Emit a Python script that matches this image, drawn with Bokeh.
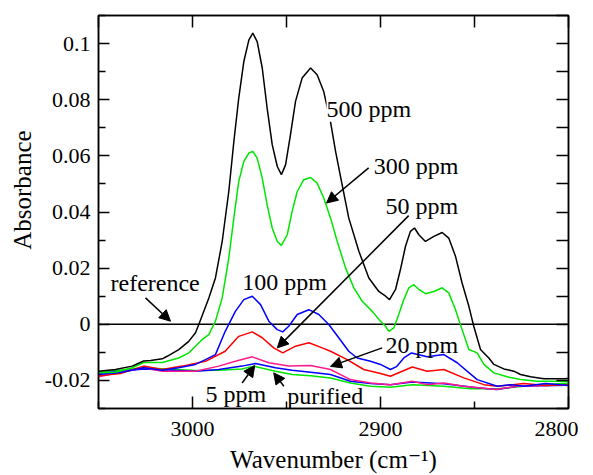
from bokeh.plotting import figure
from bokeh.models import (Range1d, LinearAxis, FixedTicker, CustomJSTickFormatter,
                          Label, Arrow, NormalHead, Title)
from bokeh.embed import file_html
from bokeh.resources import INLINE

# ---------------- data ----------------
x_500 = [3050, 3041, 3032.1, 3026, 3022.3, 3016.1, 3013.5, 3007.3, 3002, 2998.4, 2996.6,
         2991.3, 2987.8, 2984.2, 2980.7, 2978, 2975.4, 2972.7, 2970, 2967.9, 2965.6, 2962.9,
         2960.3, 2957.6, 2954.9, 2952.7, 2950.5, 2947.9, 2945.2, 2941.7, 2937.2, 2933.7,
         2930.2, 2926.6, 2923.9, 2920.4, 2916.9, 2911.5, 2906.2, 2900.9, 2897.3, 2895.2,
         2892, 2889.4, 2886.7, 2884.1, 2881.9, 2879.6, 2876.1, 2871.6, 2867.2, 2863.7,
         2860.1, 2856.6, 2853, 2850.4, 2846.8, 2842.4, 2839.7, 2834.4, 2829.1, 2825.5,
         2820.2, 2813.1, 2802.5, 2800]
y_500 = [-0.0167, -0.0161, -0.0149, -0.0131, -0.0129, -0.0123, -0.0114, -0.0090, -0.0061,
         -0.0030, 0.0000, 0.0094, 0.0165, 0.0295, 0.0473, 0.0651, 0.0806, 0.0936, 0.1013,
         0.1037, 0.1007, 0.0913, 0.0770, 0.0640, 0.0562, 0.0533, 0.0568, 0.0675, 0.0794,
         0.0877, 0.0913, 0.0889, 0.0829, 0.0722, 0.0616, 0.0497, 0.0379, 0.0260, 0.0165,
         0.0117, 0.0100, 0.0088, 0.0124, 0.0195, 0.0278, 0.0331, 0.0343, 0.0319, 0.0295,
         0.0313, 0.0327, 0.0307, 0.0242, 0.0147, 0.0064, -0.0007, -0.0090, -0.0120,
         -0.0143, -0.0159, -0.0167, -0.0179, -0.0187, -0.0194, -0.0194, -0.0193]

x_300 = [3050, 3041, 3032.1, 3026, 3016.1, 3007.3, 3002, 2998.4, 2994.8, 2991.3, 2987.8,
         2984.2, 2980.7, 2978, 2975.4, 2972.7, 2970, 2967.9, 2965.6, 2962.9, 2960.3, 2957.6,
         2954.9, 2952.7, 2949.6, 2947, 2944.3, 2940.8, 2937.2, 2933.7, 2930.2, 2926.6, 2923,
         2918.6, 2914.2, 2909.7, 2904.4, 2900, 2897.3, 2895.6, 2892.9, 2890.3, 2887.6,
         2884.9, 2882.3, 2879.6, 2876.1, 2871.6, 2867.2, 2863.7, 2860.1, 2856.6, 2853,
         2848.6, 2845, 2839.7, 2832.6, 2825.5, 2816.7, 2802.5, 2800]
y_300 = [-0.0173, -0.0171, -0.0155, -0.0136, -0.0136, -0.0120, -0.0102, -0.0078, -0.0054,
         -0.0037, 0.0011, 0.0094, 0.0236, 0.0379, 0.0509, 0.0580, 0.0610, 0.0616, 0.0592,
         0.0521, 0.0426, 0.0343, 0.0295, 0.0281, 0.0319, 0.0402, 0.0473, 0.0515, 0.0523,
         0.0503, 0.0450, 0.0379, 0.0295, 0.0201, 0.0130, 0.0082, 0.0046, 0.0011, -0.0007,
         -0.0025, -0.0013, 0.0035, 0.0088, 0.0130, 0.0141, 0.0124, 0.0109, 0.0117, 0.0130,
         0.0112, 0.0052, -0.0019, -0.0090, -0.0102, -0.0143, -0.0173, -0.0187, -0.0197,
         -0.0203, -0.0203, -0.0203]

x_100 = [3050, 3038.3, 3026, 3016.1, 3007.4, 2998.4, 2993.1, 2987.8, 2982.6, 2977.2,
         2972.7, 2968.2, 2963.8, 2959.4, 2954.9, 2952, 2948.8, 2944.3, 2938.1, 2932.8,
         2927.5, 2922.2, 2916.9, 2912.4, 2905.3, 2900, 2894.7, 2891.5, 2887.6, 2883.5,
         2875.2, 2866.3, 2859.2, 2848.6, 2837.9, 2830.8, 2823.8, 2812.2, 2800]
y_100 = [-0.0179, -0.0172, -0.0155, -0.0164, -0.0155, -0.0143, -0.0126, -0.0108, -0.0025,
         0.0046, 0.0088, 0.0100, 0.0070, 0.0011, -0.0019, -0.0027, -0.0007, 0.0035, 0.0052,
         0.0035, -0.0001, -0.0048, -0.0096, -0.0120, -0.0132, -0.0143, -0.0161, -0.0151,
         -0.0120, -0.0102, -0.0116, -0.0108, -0.0137, -0.0197, -0.0221, -0.0215, -0.0221,
         -0.0211, -0.0218]

x_50 = [3050, 3038.3, 3026, 3016.1, 3005.5, 2993.1, 2982.6, 2975.4, 2968.2, 2962.9,
        2956.8, 2952, 2945.2, 2938.1, 2931, 2926.6, 2917.7, 2908.9, 2900, 2894.7, 2883.1,
        2875.2, 2866.3, 2855.7, 2845, 2837.9, 2823.8, 2812.2, 2800]
y_50 = [-0.0183, -0.0175, -0.0149, -0.0161, -0.0149, -0.0132, -0.0096, -0.0043, -0.0027,
        -0.0048, -0.0084, -0.0102, -0.0078, -0.0066, -0.0084, -0.0096, -0.0126, -0.0161,
        -0.0175, -0.0185, -0.0152, -0.0167, -0.0161, -0.0191, -0.0215, -0.0221, -0.0211,
        -0.0218, -0.0215]

x_20 = [3050, 3026, 3016.1, 2998.4, 2986, 2977.2, 2968.2, 2959.4, 2948.8, 2937.2, 2926.6,
        2916, 2905.3, 2894.7, 2883.1, 2875.2, 2866.3, 2855.7, 2838.8, 2827.3, 2800]
y_20 = [-0.0187, -0.0155, -0.0167, -0.0167, -0.0149, -0.0132, -0.0116, -0.0137, -0.0149,
        -0.0147, -0.0161, -0.0197, -0.0209, -0.0215, -0.0203, -0.0215, -0.0209, -0.0221,
        -0.0232, -0.0221, -0.0215]

x_5 = [3050, 3026, 2998.4, 2986, 2973.6, 2966.5, 2955.9, 2947, 2937.2, 2926.6, 2916,
       2905.3, 2894.7, 2883.1, 2866.3, 2848.6, 2837.9, 2827.3, 2800]
y_5 = [-0.0175, -0.0159, -0.0167, -0.0161, -0.0149, -0.0140, -0.0155, -0.0164, -0.0171,
       -0.0179, -0.0203, -0.0211, -0.0215, -0.0206, -0.0212, -0.0226, -0.0232, -0.0221,
       -0.0217]

x_pur = [3050, 3026, 2998.4, 2986, 2973.6, 2967.4, 2955.9, 2947, 2937.2, 2926.6, 2916,
         2905.3, 2894.7, 2883.1, 2866.3, 2852.1, 2837.9, 2823.8, 2800]
y_pur = [-0.0171, -0.0155, -0.0165, -0.0164, -0.0159, -0.0149, -0.0167, -0.0179, -0.0183,
         -0.0191, -0.0209, -0.0221, -0.0224, -0.0215, -0.0221, -0.0230, -0.0230, -0.0221,
         -0.0209]

x_ref = [3050, 2800]
y_ref = [0.0, 0.0]

x_major = [3000, 2900, 2800]
x_minor = [2850, 2950, 3050]
y_major = [-0.02, 0.0, 0.02, 0.04, 0.06, 0.08, 0.1]
y_minor = [-0.03, -0.01, 0.01, 0.03, 0.05, 0.07, 0.09, 0.11]

FONT = "Liberation Serif, Times New Roman, Times, DejaVu Serif, serif"
GREEN = "#00e600"
BLUE = "#0000ff"
RED = "#ff0000"
PINK = "#ff1a8c"

p = figure(output_backend="svg", toolbar_location=None,
           frame_width=470, frame_height=393,
           min_border_left=98, min_border_right=10, min_border_top=15, min_border_bottom=0,
           x_range=Range1d(3050, 2800), y_range=Range1d(-0.03, 0.11))
p.background_fill_color = "white"
p.border_fill_color = "white"
p.xgrid.visible = False
p.ygrid.visible = False
p.outline_line_color = "black"
p.outline_line_width = 1.5

def style_ticks(ax, ticks, minor, tin, minor_in):
    ax.ticker = FixedTicker(ticks=ticks, minor_ticks=minor)
    ax.major_tick_in = tin
    ax.major_tick_out = 0
    ax.minor_tick_in = minor_in
    ax.minor_tick_out = 0
    ax.axis_line_width = 1.5
    ax.major_tick_line_width = 1.5
    ax.minor_tick_line_width = 1.5

xa = p.xaxis[0]
style_ticks(xa, x_major, x_minor, 12, 7)
xa.major_label_text_font = FONT
xa.major_label_text_font_size = "22px"
xa.major_label_text_color = "black"
xa.major_label_standoff = 13

ya = p.yaxis[0]
style_ticks(ya, y_major, y_minor, 11, 7)
ya.formatter = CustomJSTickFormatter(code="""
var s = tick.toFixed(2);
s = s.replace(/0+$/, '');
s = s.replace(/\\.$/, '');
if (s === '-0') { s = '0'; }
return s;
""")
ya.major_label_text_font = FONT
ya.major_label_text_font_size = "22px"
ya.major_label_text_color = "black"
ya.major_label_standoff = 8

# top and right axes: ticks only, no labels drawn
top = LinearAxis()
right = LinearAxis()
for ax, ticks in ((top, x_major + x_minor), (right, y_major + y_minor)):
    style_ticks(ax, ticks, [], 12, 0)
    ax.major_label_text_color = None
    ax.major_label_text_font_size = "1px"
    ax.major_label_standoff = 0
p.add_layout(top, "above")
p.add_layout(right, "right")

# axis titles
p.add_layout(Title(text="\u00a0" * 7 + "Absorbance", align="center", text_font=FONT,
                   text_font_size="25px", text_font_style="normal", text_color="black",
                   standoff=11), "left")
p.add_layout(Title(text="Wavenumber (cm\u207b\u00b9)", align="center", text_font=FONT,
                   text_font_size="25px", text_font_style="normal", text_color="black",
                   standoff=11), "below")

# curves
p.line(x_ref, y_ref, line_color="black", line_width=1.5)
p.line(x_pur, y_pur, line_color=GREEN, line_width=1.5)
p.line(x_5, y_5, line_color=BLUE, line_width=1.5)
p.line(x_20, y_20, line_color=PINK, line_width=1.5)
p.line(x_50, y_50, line_color=RED, line_width=1.5)
p.line(x_100, y_100, line_color=BLUE, line_width=1.5)
p.line(x_300, y_300, line_color=GREEN, line_width=1.5)
p.line(x_500, y_500, line_color="black", line_width=1.5)

# annotations
def lab(x, y, t, bg=None):
    kw = dict(x=x, y=y, text=t, text_font=FONT, text_font_size="24px",
              text_color="black", text_align="left", text_baseline="middle")
    if bg:
        kw["background_fill_color"] = bg
    p.add_layout(Label(**kw))

def arr(x0, y0, x1, y1):
    p.add_layout(Arrow(x_start=x0, y_start=y0, x_end=x1, y_end=y1,
                       line_color="black", line_width=1.5,
                       end=NormalHead(size=11, fill_color="black", line_color="black")))

lab(2928.7, 0.0768, "500 ppm", bg="white")
lab(2903.6, 0.0565, "300 ppm")
lab(2897.3, 0.0423, "50 ppm")
lab(2973.6, 0.0152, "100 ppm")
lab(3043.6, 0.0148, "reference")
lab(2897.3, -0.0074, "20 ppm")
lab(2993.1, -0.0247, "5 ppm")
lab(2949.6, -0.0257, "purified")

arr(2906.3, 0.0557, 2928.7, 0.0432)
arr(2885.0, 0.0387, 2954.9, -0.0084)
arr(3025.0, 0.0094, 3011.7, 0.0011)
arr(2899.1, -0.0084, 2926.6, -0.0150)
arr(2973.6, -0.0209, 2966.9, -0.0147)
arr(2951.4, -0.0221, 2956.8, -0.0173)

open("out.html", "w").write(file_html(p, INLINE))
